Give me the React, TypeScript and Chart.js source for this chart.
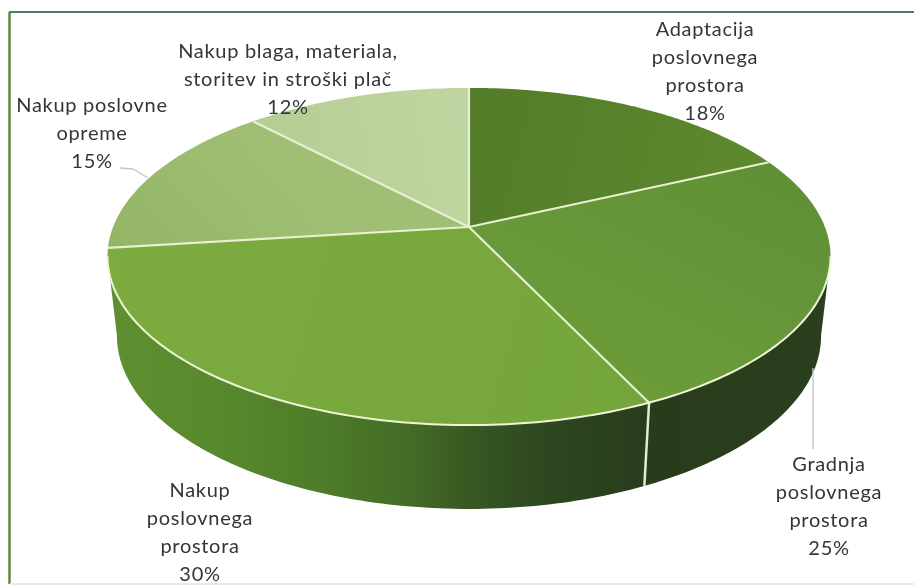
import React, { useEffect, useRef } from "react";
import { Chart, registerables } from "chart.js";

Chart.register(...registerables);

const categories = [
  ["Adaptacija", "poslovnega", "prostora"],
  ["Gradnja", "poslovnega", "prostora"],
  ["Nakup", "poslovnega", "prostora"],
  ["Nakup poslovne", "opreme"],
  ["Nakup blaga, materiala,", "storitev in stroški plač"],
];
const shares = [18, 25, 30, 15, 12];

const faceStart = ["#527c28", "#609036", "#74a53b", "#93b566", "#b5cd94"];
const faceEnd = ["#5e892e", "#6c9c39", "#7dab40", "#a0bf74", "#c0d6a2"];
const labelAnchors = [
  [705, 30],
  [829, 465],
  [200, 491],
  [92, 106],
  [288, 52],
];
const wallStops: [number, string][] = [
  [0, "#5e9030"],
  [0.15, "#58892d"],
  [0.3, "#4e7b29"],
  [0.42, "#436b26"],
  [0.5, "#385822"],
  [0.6, "#2e4820"],
  [0.75, "#283c1c"],
  [1, "#2a3f1e"],
];

const K = 0.175;
const TOP = { sx: 1.568, sy: 0.72, dy: 0 };
const BOTTOM = { sx: 1.527, sy: 0.739, dy: 78.6 };
const FRONT_FROM = (100 * Math.PI) / 180;
const FRONT_TO = (260 * Math.PI) / 180;

function project(arc: any, theta: number, g: typeof TOP) {
  const r = arc.outerRadius;
  const u = Math.sin(theta);
  const v = -Math.cos(theta);
  const s = 1 / (1 - K * v);
  return { x: arc.x + g.sx * r * u * s, y: arc.y + g.dy + g.sy * r * v * s };
}

const pie3d = {
  id: "pie3d",
  beforeDatasetsDraw(chart: any) {
    const { ctx } = chart;
    const arcs = chart.getDatasetMeta(0).data;
    const ang = (a: number) => a + Math.PI / 2;
    const STEP = Math.PI / 180;

    const wall = ctx.createLinearGradient(107, 0, 831, 0);
    wallStops.forEach(([o, c]) => wall.addColorStop(o, c));
    ctx.save();
    ctx.beginPath();
    for (let t = FRONT_FROM; t <= FRONT_TO + 1e-6; t += STEP) {
      const p = project(arcs[0], t, TOP);
      if (t === FRONT_FROM) ctx.moveTo(p.x, p.y);
      else ctx.lineTo(p.x, p.y);
    }
    for (let t = FRONT_TO; t >= FRONT_FROM - 1e-6; t -= STEP) {
      const p = project(arcs[0], t, BOTTOM);
      ctx.lineTo(p.x, p.y);
    }
    ctx.closePath();
    ctx.fillStyle = wall;
    ctx.fill();

    const a1 = ang(arcs[1].endAngle);
    const w0 = project(arcs[0], a1, TOP);
    const w1 = project(arcs[0], a1, BOTTOM);
    ctx.strokeStyle = "#e4ebd2";
    ctx.lineWidth = 2.5;
    ctx.beginPath();
    ctx.moveTo(w0.x, w0.y);
    ctx.lineTo(w1.x, w1.y);
    ctx.stroke();

    arcs.forEach((arc: any, i: number) => {
      const s = ang(arc.startAngle);
      const e = ang(arc.endAngle);
      const ps = project(arc, s, TOP);
      const pe = project(arc, e, TOP);
      const g = ctx.createLinearGradient(ps.x, ps.y, pe.x, pe.y);
      g.addColorStop(0, faceStart[i]);
      g.addColorStop(1, faceEnd[i]);
      ctx.beginPath();
      ctx.moveTo(arc.x, arc.y);
      for (let t = s; t < e; t += STEP) {
        const p = project(arc, t, TOP);
        ctx.lineTo(p.x, p.y);
      }
      ctx.lineTo(pe.x, pe.y);
      ctx.closePath();
      ctx.fillStyle = g;
      ctx.fill();
    });

    ctx.strokeStyle = "#e8f0d2";
    ctx.lineWidth = 2.2;
    arcs.forEach((arc: any) => {
      const p = project(arc, ang(arc.startAngle), TOP);
      ctx.beginPath();
      ctx.moveTo(arc.x, arc.y);
      ctx.lineTo(p.x, p.y);
      ctx.stroke();
    });

    ctx.strokeStyle = "#eef4d4";
    ctx.lineWidth = 2;
    ctx.beginPath();
    let first = true;
    for (let t = FRONT_FROM; t <= FRONT_TO; t += STEP) {
      const p = project(arcs[0], t, TOP);
      if (first) ctx.moveTo(p.x, p.y);
      else ctx.lineTo(p.x, p.y);
      first = false;
    }
    ctx.stroke();
    ctx.restore();
    return false;
  },
  afterDraw(chart: any) {
    const { ctx } = chart;
    ctx.save();
    ctx.lineWidth = 2;
    ctx.strokeStyle = "#4f7d62";
    ctx.beginPath();
    ctx.moveTo(9, 12);
    ctx.lineTo(914, 12);
    ctx.stroke();
    ctx.strokeStyle = "#5d8a3f";
    ctx.lineWidth = 2.5;
    ctx.beginPath();
    ctx.moveTo(9.5, 12);
    ctx.lineTo(9.5, 584);
    ctx.stroke();
    ctx.strokeStyle = "#f5e6e6";
    ctx.lineWidth = 2;
    ctx.beginPath();
    ctx.moveTo(10, 584);
    ctx.lineTo(914, 584);
    ctx.stroke();

    ctx.strokeStyle = "#c3c7cd";
    ctx.lineWidth = 1.4;
    ctx.beginPath();
    ctx.moveTo(120, 168);
    ctx.lineTo(133, 169);
    ctx.lineTo(148, 178);
    ctx.moveTo(813, 368);
    ctx.lineTo(813, 449);
    ctx.stroke();

    ctx.fillStyle = "#333538";
    ctx.font = "20px Lato";
    ctx.textAlign = "center";
    ctx.textBaseline = "middle";
    (ctx as any).letterSpacing = "0.7px";
    categories.forEach((lines, i) => {
      const [x, y] = labelAnchors[i];
      [...lines, `${shares[i]}%`].forEach((t, j) => {
        ctx.fillText(t, x, y + j * 27.8);
      });
    });
    ctx.restore();
  },
};

export default function App() {
  const ref = useRef<HTMLCanvasElement>(null);
  useEffect(() => {
    document.body.style.margin = "0";
    const chart = new Chart(ref.current as HTMLCanvasElement, {
      type: "pie",
      data: {
        labels: categories.map((c) => c.join(" ")),
        datasets: [{ data: shares, borderWidth: 0 }],
      },
      options: {
        responsive: false,
        animation: false,
        layout: { padding: { left: 24, top: 0, right: 0, bottom: 131 } },
        plugins: { legend: { display: false }, tooltip: { enabled: false } },
      },
      plugins: [pie3d],
    } as any);
    return () => chart.destroy();
  }, []);
  return (
    <canvas
      ref={ref}
      width={914}
      height={585}
      style={{ display: "block", width: 914, height: 585, filter: "blur(0.5px)" }}
    />
  );
}
